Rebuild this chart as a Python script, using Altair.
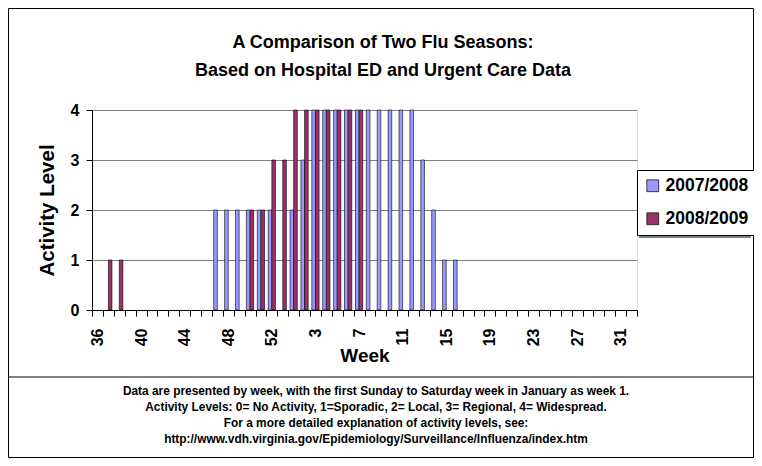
import altair as alt
import pandas as pd

weeks = [str(w) for w in list(range(36, 54)) + list(range(1, 33))]
seasons = ["2007/2008", "2008/2009"]

# 2007/2008 activity level per week (36..53, 1..32)
s0708 = [0, 0, 0, 0, 0, 0, 0, 0, 0, 0, 0, 2, 2, 2, 2, 2, 2, 0,
         2, 3, 4, 4, 4, 4, 4, 4, 4, 4, 4, 4, 3, 2, 1, 1,
         0, 0, 0, 0, 0, 0, 0, 0, 0, 0, 0, 0, 0, 0, 0, 0]
# 2008/2009 activity level per week (season in progress, data through week 7)
s0809 = [0, 1, 1, 0, 0, 0, 0, 0, 0, 0, 0, 0, 0, 0, 2, 2, 3, 3,
         4, 4, 4, 4, 4, 4, 4] + [None] * 25

tick_labels = ["36", "40", "44", "48", "52", "3", "7", "11", "15", "19", "23", "27", "31"]
colors = ["#9999FF", "#993366"]

title_lines = ["A Comparison of Two Flu Seasons:",
               "Based on Hospital ED and Urgent Care Data"]
note_lines = ["Data are presented by week, with the first Sunday to Saturday week in January as week 1.",
              "Activity Levels: 0= No Activity, 1=Sporadic, 2= Local, 3= Regional, 4= Widespread.",
              "For a more detailed explanation of activity levels, see:",
              "http://www.vdh.virginia.gov/Epidemiology/Surveillance/Influenza/index.htm"]

rows = []
for season, vals in zip(seasons, [s0708, s0809]):
    for w, v in zip(weeks, vals):
        rows.append({"week": w, "season": season, "level": v})
df = pd.DataFrame(rows)

FONT = "Liberation Sans"

label_expr = "indexof(" + str(tick_labels).replace('"', "'") + ", datum.label) >= 0 ? datum.label : ''"

bars = alt.Chart(df).transform_filter(
    "isValid(datum.level) && datum.level > 0"
).mark_bar(stroke="black", strokeWidth=0.6).encode(
    x=alt.X("week:N", sort=weeks,
            scale=alt.Scale(domain=weeks, paddingInner=0, paddingOuter=0),
            axis=alt.Axis(title="Week", labelAngle=270, labelExpr=label_expr,
                          labelOverlap=False, tickBand="extent", tickSize=6,
                          labelPadding=12, labelFontSize=16, labelFontWeight="bold",
                          titleFontSize=19, titleFontWeight="bold", titlePadding=1,
                          domainColor="black", tickColor="black", labelColor="black",
                          titleColor="black", labelFont=FONT, titleFont=FONT, grid=False)),
    xOffset=alt.XOffset("season:N", sort=seasons,
                        scale=alt.Scale(paddingOuter=0.5, paddingInner=0)),
    y=alt.Y("level:Q", scale=alt.Scale(domain=[0, 4], nice=False),
            axis=alt.Axis(title="Activity Level", values=[0, 1, 2, 3, 4], format="d",
                          tickSize=6, labelPadding=7, labelFontSize=16,
                          labelFontWeight="bold", titleFontSize=20.5, titleFontWeight="bold",
                          titlePadding=13, grid=True, gridColor="#808080", gridWidth=1,
                          domainColor="black", tickColor="black", labelColor="black",
                          titleColor="black", labelFont=FONT, titleFont=FONT)),
    color=alt.Color("season:N", sort=seasons,
                    scale=alt.Scale(domain=seasons, range=colors),
                    legend=alt.Legend(title=None, orient="none", legendX=545, legendY=60,
                                      symbolType="square", symbolSize=140,
                                      symbolStrokeColor="black", symbolStrokeWidth=0.7,
                                      labelFont=FONT, labelFontSize=17.5, labelFontWeight="bold",
                                      labelColor="black", labelOffset=4, rowPadding=14,
                                      padding=7, fillColor="white", strokeColor="black")),
)

one = alt.Data(values=[{"k": 0}])

frame = alt.Chart(one).mark_rect(fill=None, stroke="black", strokeWidth=1).encode(
    x=alt.value(-83.5), x2=alt.value(661.5), y=alt.value(-101.5), y2=alt.value(347.5))
sep = alt.Chart(one).mark_rule(color="black", strokeWidth=1).encode(
    x=alt.value(-83.5), x2=alt.value(661.5), y=alt.value(267))
shadow = alt.Chart(one).mark_rect(fill="#808080").encode(
    x=alt.value(547), x2=alt.value(659), y=alt.value(62), y2=alt.value(128))

title = alt.Chart(one).mark_text(text=title_lines, font=FONT, fontSize=18, fontWeight="bold",
                                 align="center", baseline="top", lineHeight=28,
                                 color="black").encode(x=alt.value(291), y=alt.value(-76))
note = alt.Chart(one).mark_text(text=note_lines, font=FONT, fontSize=11.9, fontWeight="bold",
                                align="center", baseline="top", lineHeight=16,
                                color="black").encode(x=alt.value(284), y=alt.value(276))

chart = alt.layer(frame, sep, shadow, bars, title, note).properties(
    width=545, height=200,
    padding={"left": 84, "top": 102, "right": 117, "bottom": 148},
    autosize=alt.AutoSizeParams(type="none"),
).configure_view(stroke=None).configure(background="white")

chart.save("out.html", embed_options={"renderer": "svg", "actions": False})
